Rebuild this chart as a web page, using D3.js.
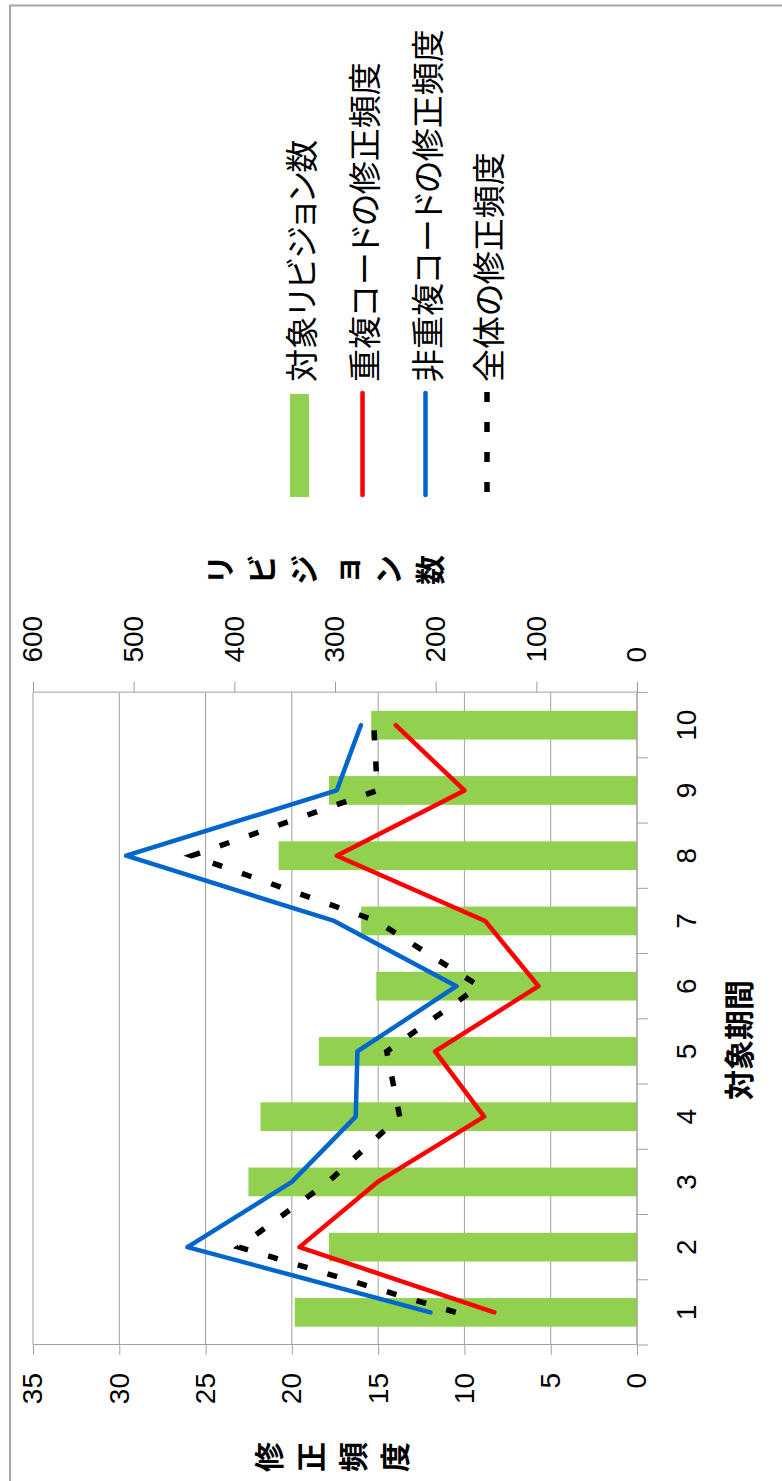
<!DOCTYPE html>
<html>
<head>
<meta charset="utf-8">
<script src="https://cdn.jsdelivr.net/npm/d3@7"></script>
<style>
  html, body { margin: 0; padding: 0; background: #fff; }
  svg { display: block; }
  .num { font-family: "Liberation Sans", Arial, sans-serif; }
  .jp { font-family: "Noto Sans CJK JP", "Noto Sans", sans-serif; font-feature-settings: "palt"; }
</style>
</head>
<body>
<svg id="chart" width="782" height="1481"></svg>
<script>
// Period categories
const categories = ["1", "2", "3", "4", "5", "6", "7", "8", "9", "10"];
// Number of revisions per period (right axis)
const revisions = [340, 306, 386, 374, 316, 259, 274, 356, 306, 264];
// Modification frequency of cloned code
const cloneFreq = [8.27, 19.56, 15.03, 8.86, 11.7, 5.71, 8.8, 17.4, 10.0, 13.98];
// Modification frequency of non-cloned code
const nonCloneFreq = [11.97, 26.05, 20.0, 16.3, 16.2, 10.46, 17.55, 29.6, 17.4, 16.0];
// Modification frequency of the whole code
const totalFreq = [10.5, 23.07, 17.9, 13.75, 14.5, 9.14, 15.1, 25.8, 15.05, 15.25];

const freqTicks = [0, 5, 10, 15, 20, 25, 30, 35];
const revTicks = [0, 100, 200, 300, 400, 500, 600];

const seriesNames = ["対象リビジョン数", "重複コードの修正頻度", "非重複コードの修正頻度", "全体の修正頻度"];
const freqTitle = "修正頻度";
const revTitle = "リビジョン数";
const catTitle = "対象期間";

const colors = { bar: "#92d050", clone: "#ff0000", nonClone: "#0066cc", total: "#000000", grid: "#a0a0a0" };

// The chart is laid out in landscape (W x H) and turned a quarter turn counter-clockwise.
const W = 1481, H = 782;
const svg = d3.select("#chart");
const g = svg.append("g").attr("transform", `translate(0,${W}) rotate(-90)`);

const plot = { left: 136, right: 788.4, top: 33, bottom: 637 };

const x = d3.scaleBand().domain(categories)
  .range([plot.left, plot.right]).paddingInner(0.56).paddingOuter(0.28);
const yL = d3.scaleLinear().domain([0, 35]).range([plot.bottom, plot.top]);
const yR = d3.scaleLinear().domain([0, 600]).range([plot.bottom, plot.top]);
const cx = c => x(c) + x.bandwidth() / 2;

// Chart border
g.append("path")
  .attr("d", `M -10 10 H 1475.5 V ${H + 10}`)
  .attr("fill", "none").attr("stroke", "#a6a6a6").attr("stroke-width", 2);

// Gridlines
g.append("g").selectAll("line").data(freqTicks).join("line")
  .attr("x1", plot.left).attr("x2", plot.right)
  .attr("y1", d => yL(d)).attr("y2", d => yL(d))
  .attr("stroke", colors.grid).attr("stroke-width", 1);

// Bars: revisions
g.append("g").selectAll("rect").data(categories).join("rect")
  .attr("x", d => x(d)).attr("width", x.bandwidth())
  .attr("y", (d, i) => yR(revisions[i]))
  .attr("height", (d, i) => plot.bottom - yR(revisions[i]))
  .attr("fill", colors.bar);

// Axes
function styleAxis(sel) {
  sel.selectAll("path, line").attr("stroke", colors.grid).attr("stroke-width", 1);
  sel.selectAll("text").attr("class", "num").attr("font-size", 28).attr("fill", "#000");
}
g.append("g").attr("transform", `translate(${plot.left},0)`)
  .call(d3.axisLeft(yL).tickValues(freqTicks).tickSize(10).tickSizeOuter(0).tickPadding(18))
  .call(styleAxis);
g.append("g").attr("transform", `translate(${plot.right},0)`)
  .call(d3.axisRight(yR).tickValues(revTicks).tickSize(11).tickSizeOuter(0).tickPadding(19))
  .call(styleAxis);
const catAxis = g.append("g").attr("transform", `translate(0,${plot.bottom})`)
  .call(d3.axisBottom(x).tickSize(0).tickPadding(39))
  .call(styleAxis);
catAxis.select(".domain").attr("d", `M${plot.left},0H${plot.right}`);
// Category tick marks sit between the categories
const bounds = categories.map(c => x(c) - x.step() * x.paddingInner() / 2)
  .concat([plot.right]);
catAxis.selectAll("line.bound").data(bounds).join("line").attr("class", "bound")
  .attr("x1", d => d).attr("x2", d => d).attr("y1", 0).attr("y2", 11)
  .attr("stroke", colors.grid).attr("stroke-width", 1);

// Lines
const lineGen = vals => d3.line().x((d, i) => cx(categories[i])).y(d => yL(d))(vals);
g.append("path").attr("d", lineGen(cloneFreq)).attr("fill", "none")
  .attr("stroke", colors.clone).attr("stroke-width", 4.5)
  .attr("stroke-linejoin", "round").attr("stroke-linecap", "round");
g.append("path").attr("d", lineGen(nonCloneFreq)).attr("fill", "none")
  .attr("stroke", colors.nonClone).attr("stroke-width", 4.5)
  .attr("stroke-linejoin", "round").attr("stroke-linecap", "round");
g.append("path").attr("d", lineGen(totalFreq)).attr("fill", "none")
  .attr("stroke", colors.total).attr("stroke-width", 5.5)
  .attr("stroke-dasharray", "10 21").attr("stroke-linecap", "butt");

// Axis titles (stacked characters)
function stacked(text, cxPos, cyCenter, size) {
  const chars = Array.from(text);
  const pitch = 42;
  g.append("g").selectAll("text").data(chars).join("text")
    .attr("class", "jp").attr("font-size", size).attr("font-weight", 700)
    .attr("text-anchor", "middle").attr("dominant-baseline", "central")
    .attr("x", cxPos)
    .attr("y", (d, i) => cyCenter + (i - (chars.length - 1) / 2) * pitch)
    .text(d => d);
}
stacked(freqTitle, 24, 330, 30);
stacked(revTitle, 911, 323, 30);

g.append("text").attr("class", "jp").attr("font-size", 30).attr("font-weight", 700)
  .attr("text-anchor", "middle").attr("dominant-baseline", "central")
  .attr("x", 441).attr("y", 737).text(catTitle);

// Legend
const legY = [299.5, 362.5, 425.5, 487];
const leg = g.append("g");
leg.append("rect").attr("x", 984).attr("y", legY[0] - 9.5).attr("width", 103).attr("height", 19)
  .attr("fill", colors.bar);
leg.append("line").attr("x1", 986).attr("x2", 1088).attr("y1", legY[1]).attr("y2", legY[1])
  .attr("stroke", colors.clone).attr("stroke-width", 4.5).attr("stroke-linecap", "round");
leg.append("line").attr("x1", 986).attr("x2", 1088).attr("y1", legY[2]).attr("y2", legY[2])
  .attr("stroke", colors.nonClone).attr("stroke-width", 4.5).attr("stroke-linecap", "round");
leg.append("line").attr("x1", 1089).attr("x2", 984).attr("y1", legY[3]).attr("y2", legY[3])
  .attr("stroke", colors.total).attr("stroke-width", 5.5).attr("stroke-dasharray", "10 20");
leg.selectAll("text").data(seriesNames).join("text")
  .attr("class", "jp").attr("font-size", 33)
  .attr("dominant-baseline", "central")
  .attr("x", 1099).attr("y", (d, i) => legY[i]).text(d => d);
</script>
</body>
</html>
